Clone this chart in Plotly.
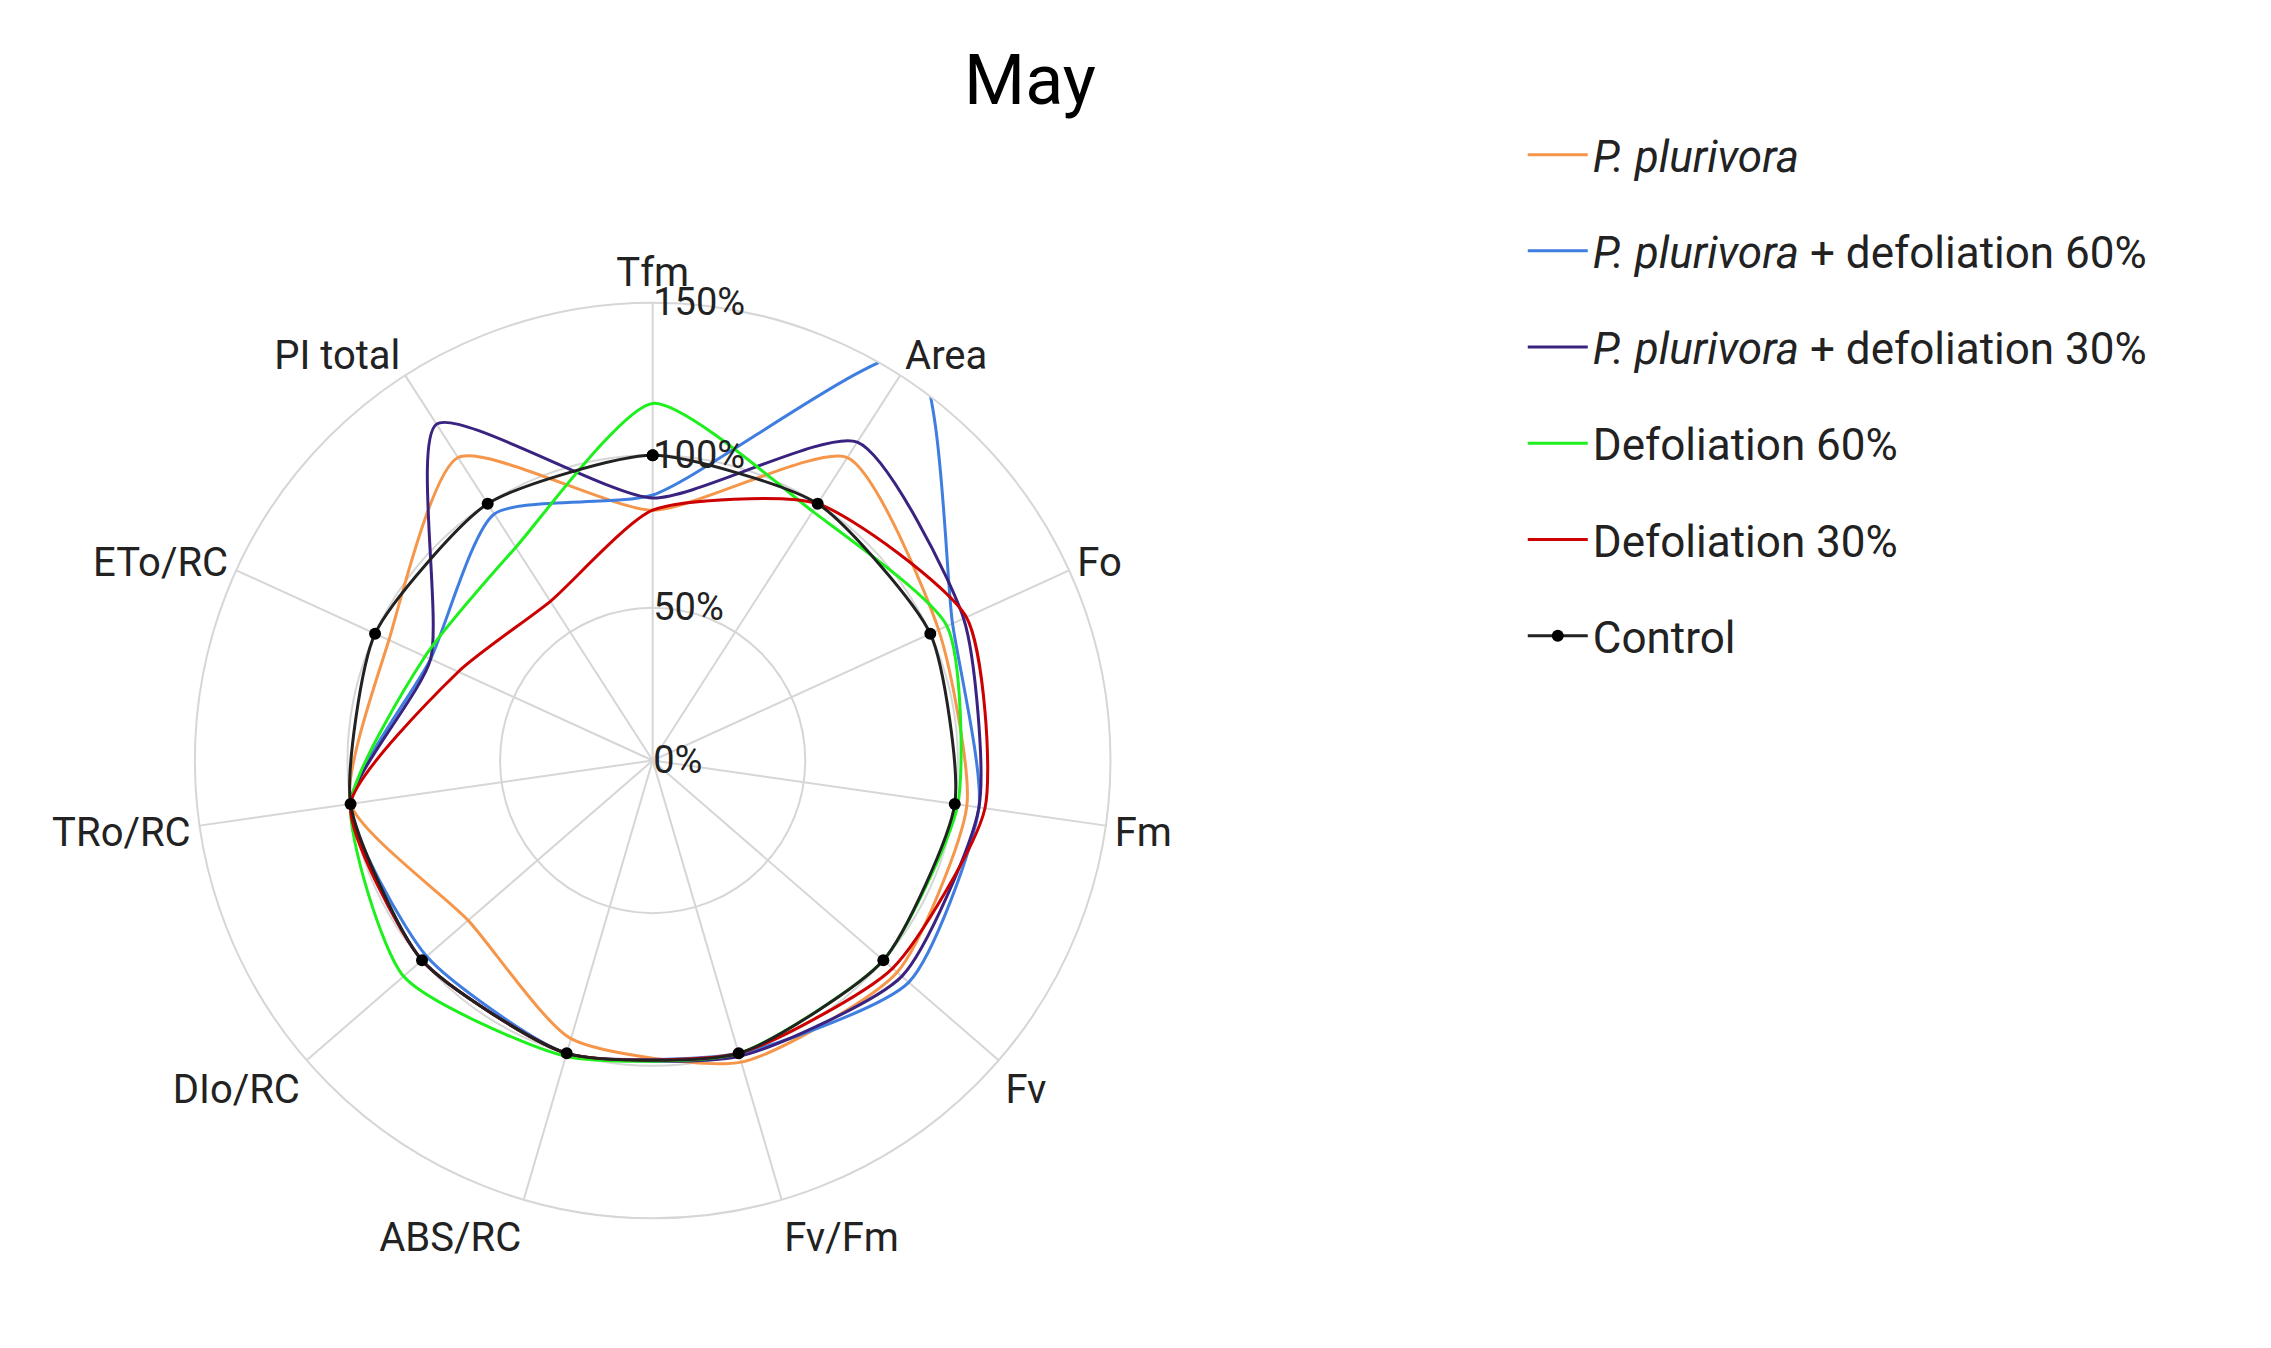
import plotly.graph_objects as go

categories = ["Tfm", "Area", "Fo", "Fm", "Fv", "Fv/Fm", "ABS/RC", "DIo/RC", "TRo/RC", "ETo/RC", "PI total"]
control = [100, 100, 100, 100, 100, 100, 100, 100, 100, 100, 100]
defol30 = [82, 100, 113, 110, 104, 100, 100, 100, 100, 70, 62]
defol60 = [117, 97, 106, 101, 100, 100, 101, 108, 100, 82, 83]
pp_def30 = [86, 124, 112, 108, 108, 101, 100, 100, 100, 80, 131]
pp_def60 = [87, 158, 108, 108, 111, 100, 100, 98, 100, 80, 96]
pp = [82, 118, 103, 104, 106, 103, 95, 80, 100, 95, 118]
tick_vals = [0, 50, 100, 150]
tick_text = ["0%", "50%", "100%", "150%"]

series = [
    ("<i>P. plurivora</i>", pp, "#f5964a"),
    ("<i>P. plurivora</i> + defoliation 60%", pp_def60, "#3f7ee0"),
    ("<i>P. plurivora</i> + defoliation 30%", pp_def30, "#3a2380"),
    ("Defoliation 60%", defol60, "#1ef01e"),
    ("Defoliation 30%", defol30, "#cc0000"),
]

fig = go.Figure()
for i, (name, vals, col) in enumerate(series):
    fig.add_trace(go.Scatterpolar(
        r=vals + vals[:1], theta=categories + categories[:1], name=name, legendgroup=f"g{i}",
        mode="lines", line=dict(color=col, width=3, shape="spline", smoothing=0.6)))
fig.add_trace(go.Scatterpolar(
    r=control + control[:1], theta=categories + categories[:1], name="Control", legendgroup="gc",
    mode="lines+markers", line=dict(color="#222222", width=3, shape="spline", smoothing=0.6),
    marker=dict(color="black", size=12)))

fig.update_layout(
    width=2271, height=1348,
    paper_bgcolor="white", plot_bgcolor="white",
    font=dict(family="Roboto", size=40, color="#222"),
    title=dict(text="May", x=0.45, xanchor="center", y=0.965, font=dict(size=70, color="black")),
    polar=dict(
        domain=dict(x=[0.07, 0.49], y=[0.09, 0.79]),
        bgcolor="white",
        radialaxis=dict(range=[0, 150], tickvals=tick_vals, ticktext=tick_text, angle=90,
                        tickangle=90, showline=False, gridcolor="#d6d6d6", gridwidth=2,
                        tickfont=dict(size=38, color="#222")),
        angularaxis=dict(direction="clockwise", rotation=90, gridcolor="#d6d6d6", gridwidth=2,
                         linecolor="#d6d6d6", linewidth=2, showline=True, ticks="",
                         tickfont=dict(size=40, color="#222")),
    ),
    legend=dict(x=0.67, y=0.93, xanchor="left", yanchor="top", traceorder="reversed+grouped",
                font=dict(size=44), itemwidth=60, tracegroupgap=36),
    margin=dict(l=20, r=20, t=20, b=20),
)
fig.write_html("out.html")
